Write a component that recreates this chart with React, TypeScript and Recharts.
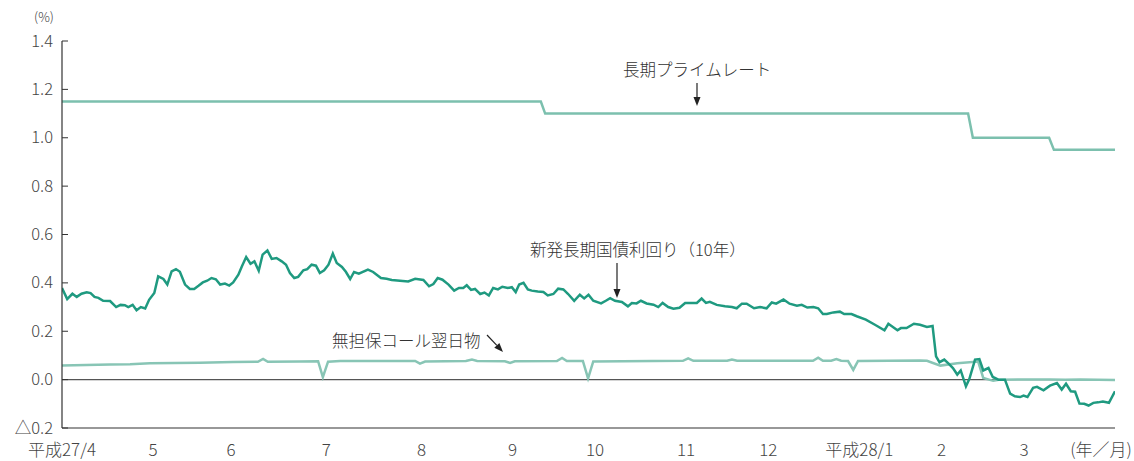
import React from "react";
import { LineChart, Line, XAxis, YAxis, ReferenceLine } from "recharts";

// x = business-day index from 2015/4/1, y = %
const monthTicks = [0, 21, 39, 61, 83, 104, 123, 144, 163, 184, 203, 222];
const monthLabels = ["平成27/4", "5", "6", "7", "8", "9", "10", "11", "12", "平成28/1", "2", "3"];
const yTicks = [-0.2, 0, 0.2, 0.4, 0.6, 0.8, 1.0, 1.2, 1.4];

const primeRate = [
  [0, 1.15], [110.5, 1.15], [111.5, 1.1], [209.1, 1.1], [210.2, 1.0],
  [227.8, 1.0], [228.9, 0.95], [243, 0.95],
];

const jgb10y = [
  [0, 0.379], [1.2, 0.333], [2.4, 0.355], [3.4, 0.342], [4.5, 0.355], [5.7, 0.361],
  [6.6, 0.358], [7.5, 0.342], [8.4, 0.338], [9.5, 0.326], [11.1, 0.325], [12.5, 0.3],
  [13.5, 0.309], [14.5, 0.308], [15.3, 0.3], [16.3, 0.309], [17.2, 0.287], [18.2, 0.3],
  [19.2, 0.294], [20.1, 0.33], [21.3, 0.358], [22.2, 0.427], [23.4, 0.416], [24.3, 0.393],
  [25.3, 0.448], [26.3, 0.457], [27.2, 0.446], [28.4, 0.393], [29.5, 0.375], [30.5, 0.375],
  [31.5, 0.388], [32.5, 0.402], [33.5, 0.409], [34.5, 0.42], [35.5, 0.415], [36.5, 0.393],
  [37.6, 0.397], [38.6, 0.389], [39.5, 0.402], [40.7, 0.434], [41.5, 0.468], [42.5, 0.507],
  [43.5, 0.479], [44.4, 0.489], [45.4, 0.45], [46.3, 0.517], [47.4, 0.534], [48.4, 0.499],
  [49.5, 0.503], [50.7, 0.489], [51.7, 0.475], [52.6, 0.441], [53.6, 0.42], [54.5, 0.425],
  [55.7, 0.452], [56.6, 0.457], [57.6, 0.475], [58.6, 0.471], [59.5, 0.441], [60.5, 0.452],
  [61.5, 0.475], [62.5, 0.521], [63.4, 0.482], [64.6, 0.466], [65.5, 0.446], [66.5, 0.416],
  [67.4, 0.445], [68.5, 0.438], [70.6, 0.455], [71.8, 0.445], [73.6, 0.42], [74.9, 0.417],
  [76.1, 0.412], [78.0, 0.409], [79.9, 0.406], [81.5, 0.417], [83.4, 0.412], [84.7, 0.386],
  [85.7, 0.395], [86.7, 0.42], [87.8, 0.413], [89.2, 0.393], [90.5, 0.368], [91.6, 0.379],
  [92.6, 0.379], [93.4, 0.39], [94.4, 0.371], [95.3, 0.375], [96.5, 0.354], [97.5, 0.36],
  [98.5, 0.348], [99.5, 0.379], [100.6, 0.373], [101.6, 0.384], [102.9, 0.379], [103.8, 0.382],
  [104.7, 0.362], [105.5, 0.393], [106.5, 0.4], [107.5, 0.373], [108.4, 0.368], [109.8, 0.364],
  [111.1, 0.362], [112.1, 0.348], [113.4, 0.354], [114.5, 0.376], [115.7, 0.373], [116.8, 0.354],
  [118.2, 0.326], [119.5, 0.351], [120.5, 0.336], [121.5, 0.351], [122.6, 0.326], [124.4, 0.315],
  [125.5, 0.326], [126.5, 0.337], [127.6, 0.326], [129.2, 0.321], [130.6, 0.303], [131.5, 0.317],
  [132.6, 0.315], [133.6, 0.326], [134.9, 0.315], [136.5, 0.31], [137.6, 0.3], [138.6, 0.317],
  [139.9, 0.3], [141.1, 0.293], [142.5, 0.297], [143.8, 0.317], [146.5, 0.317], [147.6, 0.335],
  [148.6, 0.317], [149.5, 0.322], [151.1, 0.309], [153.0, 0.303], [154.6, 0.3], [155.7, 0.295],
  [156.9, 0.314], [158.0, 0.314], [159.7, 0.295], [161.1, 0.3], [162.6, 0.295], [163.8, 0.319],
  [164.8, 0.314], [166.5, 0.331], [167.9, 0.314], [169.6, 0.306], [170.7, 0.309], [172.0, 0.298],
  [173.4, 0.3], [174.5, 0.295], [175.6, 0.271], [176.5, 0.271], [178.0, 0.278], [179.5, 0.281],
  [180.5, 0.271], [182.2, 0.271], [183.4, 0.262], [185.5, 0.248], [187.6, 0.227], [189.8, 0.204],
  [190.7, 0.231], [192.8, 0.204], [193.6, 0.213], [194.9, 0.213], [196.6, 0.231], [198.0, 0.227],
  [199.6, 0.218], [200.9, 0.222], [201.7, 0.096], [202.5, 0.072], [203.6, 0.083], [204.6, 0.066],
  [205.6, 0.048], [206.6, 0.021], [207.4, 0.038], [208.6, -0.028], [209.4, 0.003], [210.7, 0.083],
  [211.7, 0.085], [212.6, 0.038], [213.8, 0.048], [214.8, 0.011], [216.1, 0.0], [217.6, 0.0],
  [218.8, -0.058], [219.9, -0.069], [221.1, -0.072], [221.9, -0.066], [222.8, -0.072], [224.1, -0.034],
  [225.0, -0.03], [226.5, -0.044], [228.0, -0.025], [229.6, -0.014], [230.7, -0.041], [231.7, -0.017],
  [232.8, -0.048], [233.8, -0.05], [234.8, -0.099], [235.9, -0.1], [236.9, -0.107], [238.0, -0.096],
  [239.1, -0.094], [240.2, -0.091], [241.6, -0.096], [243, -0.048],
];

const callRate = [
  [0, 0.058], [11.1, 0.063], [15.7, 0.064], [20.3, 0.068], [31.8, 0.07], [39.5, 0.073],
  [45.2, 0.074], [46.4, 0.086], [47.5, 0.074], [54.9, 0.075], [59.1, 0.076], [60.2, 0.01],
  [61.4, 0.074], [64.2, 0.077], [81.5, 0.077], [82.6, 0.066], [83.8, 0.075], [93.2, 0.077],
  [94.6, 0.083], [95.8, 0.077], [102.2, 0.076], [103.4, 0.069], [104.5, 0.076], [114.2, 0.077],
  [115.4, 0.09], [116.5, 0.077], [120.2, 0.077], [121.4, 0.005], [122.6, 0.075], [143.3, 0.078],
  [144.5, 0.088], [145.7, 0.078], [153.5, 0.078], [154.6, 0.083], [155.8, 0.078], [173.3, 0.078],
  [174.5, 0.091], [175.6, 0.078], [177.5, 0.078], [178.7, 0.085], [179.8, 0.078], [181.4, 0.077],
  [182.6, 0.04], [183.7, 0.077], [198.0, 0.079], [199.6, 0.078], [202.7, 0.058], [206.6, 0.068],
  [211.4, 0.075], [212.6, 0.007], [214.9, -0.005], [216.5, 0.0], [228, 0.001], [231.5, -0.001],
  [235, 0.001], [243, -0.002],
];

const toRows = (pts) => pts.map(([d, v]) => ({ d, v }));

const FONT = "'Noto Sans CJK JP', 'Noto Sans', sans-serif";

const fmtY = (v) => {
  if (v < 0) return "△" + Math.abs(v).toFixed(1);
  return Math.abs(v) < 1e-9 ? "0.0" : v.toFixed(1);
};

const YTick = ({ x, y, payload }) => (
  <g>
    <line x1={x} x2={x + 6} y1={y} y2={y} stroke="#333" strokeWidth={1} />
    <text x={x - 9} y={y + 5.5} textAnchor="end" fontSize={16.5} fontWeight={300} fill="#444" fontFamily={FONT}>
      {fmtY(payload.value)}
    </text>
  </g>
);

const XTick = ({ x, y, payload }) => {
  const idx = monthTicks.indexOf(payload.value);
  return (
    <text x={x} y={y + 28} textAnchor="middle" fontSize={17} fontWeight={300} fill="#444" fontFamily={FONT}>
      {monthLabels[idx]}
    </text>
  );
};

const Arrow = ({ x1, y1, x2, y2 }) => {
  const dx = x2 - x1;
  const dy = y2 - y1;
  const len = Math.sqrt(dx * dx + dy * dy);
  const ux = dx / len;
  const uy = dy / len;
  const bx = x2 - ux * 9;
  const by = y2 - uy * 9;
  return (
    <g>
      <line x1={x1} y1={y1} x2={bx} y2={by} stroke="#222" strokeWidth={1.2} />
      <polygon
        points={`${x2},${y2} ${bx - uy * 3.5},${by + ux * 3.5} ${bx + uy * 3.5},${by - ux * 3.5}`}
        fill="#222"
      />
    </g>
  );
};

export default function App() {
  return (
    <div style={{ position: "absolute", left: 0, top: 0, width: 1134, height: 461, background: "#fff", fontFamily: FONT }}>
      <LineChart width={1134} height={461} margin={{ top: 41, right: 19, left: 0, bottom: 0 }}>
        <XAxis
          type="number"
          dataKey="d"
          domain={[0, 243]}
          ticks={monthTicks}
          interval={0}
          tick={<XTick />}
          tickLine={false}
          tickSize={0}
          tickMargin={0}
          height={33}
          axisLine={{ stroke: "#333", strokeWidth: 1.2 }}
          allowDataOverflow
        />
        <YAxis
          type="number"
          domain={[-0.2, 1.4]}
          ticks={yTicks}
          interval={0}
          tick={<YTick />}
          tickLine={false}
          tickSize={0}
          tickMargin={0}
          width={62}
          axisLine={{ stroke: "#333", strokeWidth: 1.2 }}
          allowDataOverflow
        />
        <ReferenceLine y={0} stroke="#555" strokeWidth={1.2} />
        <Line data={toRows(primeRate)} dataKey="v" type="linear" stroke="#7cc0ae" strokeWidth={2.5} dot={false} isAnimationActive={false} />
        <Line data={toRows(callRate)} dataKey="v" type="linear" stroke="#88c5b5" strokeWidth={2.5} dot={false} isAnimationActive={false} />
        <Line data={toRows(jgb10y)} dataKey="v" type="linear" stroke="#1f9a80" strokeWidth={2.5} dot={false} isAnimationActive={false} />
      </LineChart>
      <svg width={1134} height={461} style={{ position: "absolute", left: 0, top: 0, pointerEvents: "none" }}>
        <text x={44} y={22} fontSize={13} fontWeight={300} fill="#444" textAnchor="middle" fontFamily={FONT}>(%)</text>
        <text x={1101} y={456} fontSize={17} fontWeight={300} fill="#444" textAnchor="middle" fontFamily={FONT}>(年／月)</text>
        <text x={623} y={76} fontSize={16.5} fontWeight={300} fill="#333" fontFamily={FONT}>長期プライムレート</text>
        <Arrow x1={697} y1={83} x2={697} y2={106} />
        <text x={530} y={256} fontSize={16.5} fontWeight={300} fill="#333" fontFamily={FONT}>新発長期国債利回り（10年）</text>
        <Arrow x1={617} y1={263} x2={617} y2={298} />
        <text x={332} y={347} fontSize={16.5} fontWeight={300} fill="#333" fontFamily={FONT}>無担保コール翌日物</text>
        <Arrow x1={487} y1={335} x2={503} y2={352} />
      </svg>
    </div>
  );
}
